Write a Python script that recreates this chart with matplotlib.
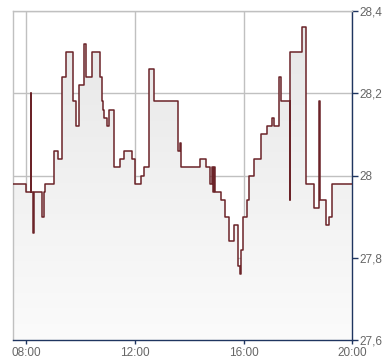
import matplotlib
matplotlib.use("Agg")
import matplotlib.pyplot as plt
import numpy as np
from matplotlib.ticker import FuncFormatter

# time of each change (hours) and the price from that moment on
hours = [7.52, 8.00, 8.16, 8.17, 8.23, 8.30, 8.59, 8.66, 8.70, 9.03,
         9.15, 9.33, 9.47, 9.71, 9.84, 9.93, 10.11, 10.20, 10.41, 10.72,
         10.80, 10.83, 10.87, 10.98, 11.06, 11.24, 11.46, 11.61, 11.90, 12.00,
         12.23, 12.34, 12.53, 12.71, 13.58, 13.67, 13.71, 14.38, 14.61, 14.77,
         14.83, 14.89, 14.91, 14.93, 15.18, 15.31, 15.47, 15.63, 15.80, 15.86,
         15.91, 15.98, 16.14, 16.18, 16.38, 16.63, 16.85, 17.05, 17.11, 17.31,
         17.38, 17.70, 17.72, 18.16, 18.31, 18.60, 18.78, 18.80, 19.04, 19.15,
         19.24, 20.00]
price = [27.98, 27.96, 28.20, 27.96, 27.86, 27.96, 27.90, 27.96, 27.98, 28.06,
         28.04, 28.24, 28.30, 28.18, 28.12, 28.22, 28.32, 28.24, 28.30, 28.24,
         28.18, 28.16, 28.14, 28.12, 28.16, 28.02, 28.04, 28.06, 28.04, 27.98,
         28.00, 28.02, 28.26, 28.18, 28.06, 28.08, 28.02, 28.04, 28.02, 27.98,
         28.02, 27.96, 28.02, 27.96, 27.94, 27.90, 27.84, 27.88, 27.78, 27.76,
         27.82, 27.90, 27.94, 28.00, 28.04, 28.10, 28.12, 28.14, 28.12, 28.24,
         28.18, 27.94, 28.30, 28.36, 27.98, 27.92, 28.18, 27.94, 27.88, 27.90,
         27.98, 27.98]

x_ticks = [8, 12, 16, 20]
x_labels = ["08:00", "12:00", "16:00", "20:00"]
y_ticks = [27.6, 27.8, 28.0, 28.2, 28.4]

plt.rcParams['font.family'] = ['Liberation Sans', 'DejaVu Sans']

fig = plt.figure(figsize=(3.9, 3.64), dpi=100)
ax = fig.add_axes([13.3/390, 24/364, 339/390, 329/364])

ymin, ymax = 27.6, 28.4
xmin, xmax = 7.52, 20.0

# gradient fill below the step line
fill = ax.fill_between(hours, price, ymin, step='post', facecolor='none', edgecolor='none')
grad = np.linspace(0, 1, 256).reshape(-1, 1)
img = ax.imshow(grad, extent=[xmin, xmax, ymin, ymax], origin='lower', aspect='auto',
                cmap=matplotlib.colors.LinearSegmentedColormap.from_list('g', ['#fbfbfb', '#e6e6e6']),
                zorder=1)
img.set_clip_path(fill.get_paths()[0], transform=ax.transData)

ax.step(hours, price, where='post', color='#6b2328', lw=1.1, zorder=3)

ax.set_xlim(xmin, xmax)
ax.set_ylim(ymin, ymax)
ax.set_xticks(x_ticks)
ax.set_xticklabels(x_labels)
ax.set_yticks(y_ticks)
ax.yaxis.set_major_formatter(FuncFormatter(lambda v, p: ('%g' % round(v, 1)).replace('.', ',')))
ax.yaxis.tick_right()

ax.grid(True, color='#c0c0c0', lw=1, zorder=2)
ax.set_axisbelow(True)

for s in ['left', 'top']:
    ax.spines[s].set_color('#c0c0c0')
    ax.spines[s].set_linewidth(1)
for s in ['right', 'bottom']:
    ax.spines[s].set_color('#1f3560')
    ax.spines[s].set_linewidth(1)

ax.tick_params(axis='y', colors='#1f3560', labelcolor='#666666', length=4, width=1, pad=1, labelsize=8.5)
ax.tick_params(axis='x', colors='#1f3560', labelcolor='#666666', length=3, width=1, pad=2, labelsize=8.5)

fig.savefig('out.png', dpi=100)
